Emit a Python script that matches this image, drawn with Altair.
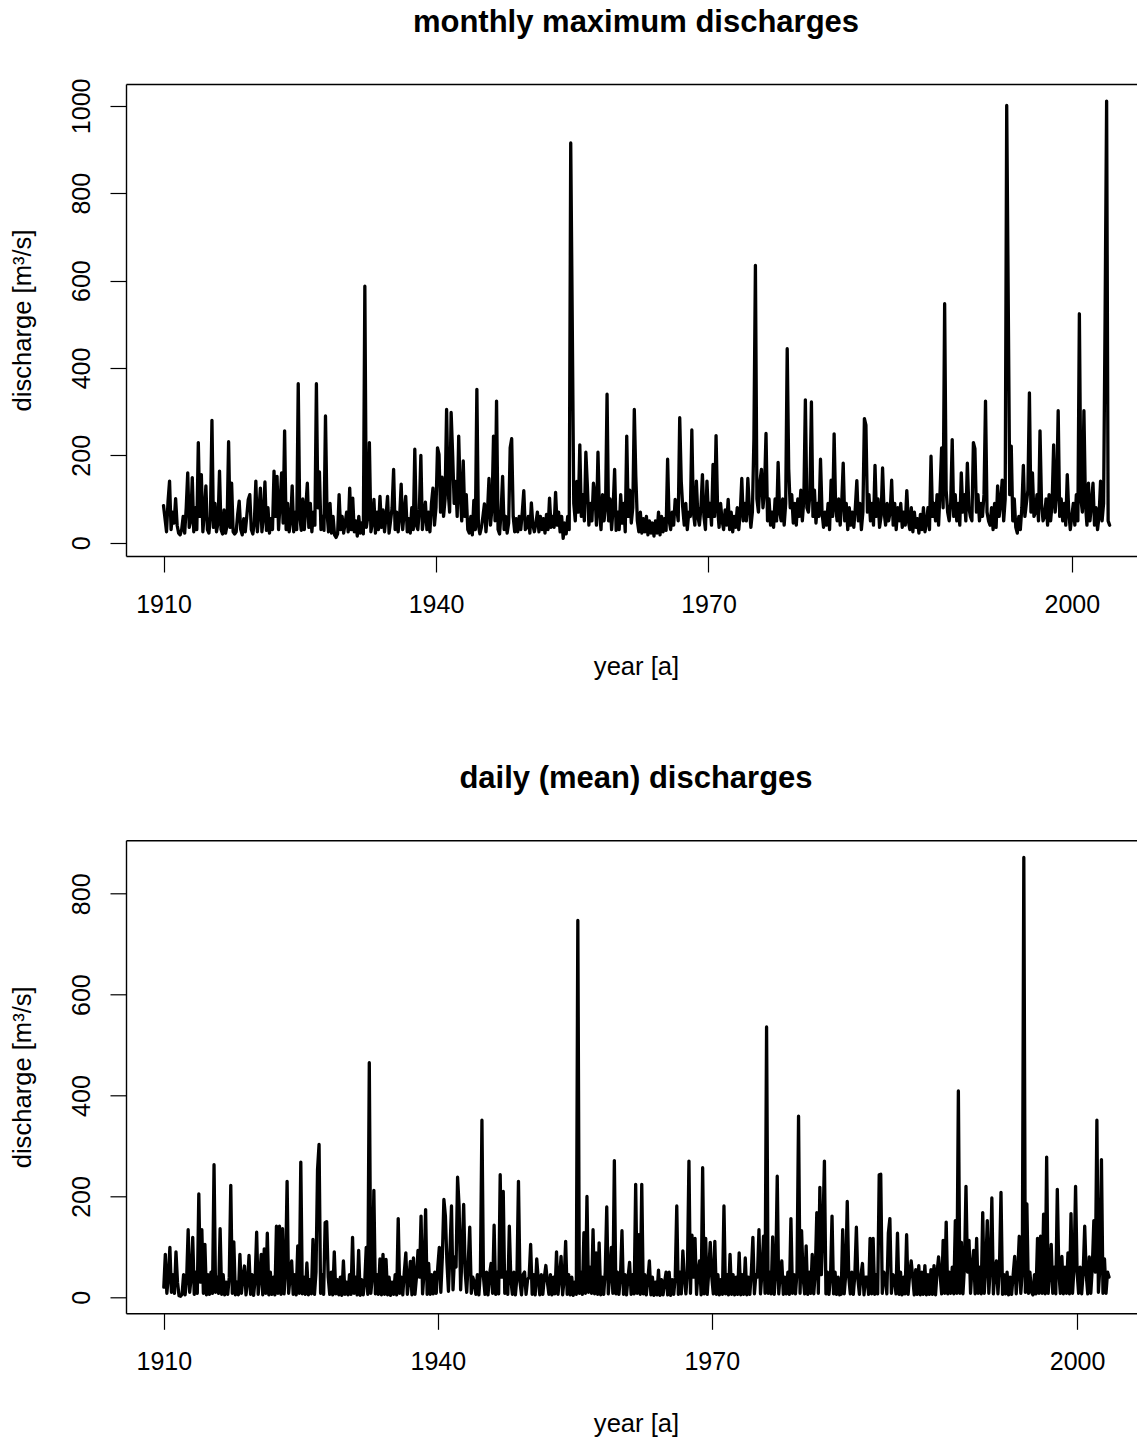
import altair as alt
import pandas as pd

# ---------------- texts ----------------
TITLE_MONTHLY = "monthly maximum discharges"
TITLE_DAILY = "daily (mean) discharges"
X_TITLE = "year [a]"
Y_TITLE = "discharge [m³/s]"

# x tick positions (time axis position) and the labels printed there
TICK_POS = [1910, 1940, 1970, 2010]
TICK_LABELS = ["1910", "1940", "1970", "2000"]
Y_TICKS_MONTHLY = [0, 200, 400, 600, 800, 1000]
Y_TICKS_DAILY = [0, 200, 400, 600, 800]

STEPS_PER_YEAR = 6  # values below are read every 2 months

# ---------------- monthly maximum discharges (m³/s) ----------------
M_1910 = [
    85, 55, 25, 95, 141, 30,     # 1910
    70, 45, 101, 40, 22, 18,     # 1911
    30, 60, 22, 80, 160, 35,     # 1912
    50, 149, 25, 80, 30, 229,    # 1913
    60, 156, 25, 70, 130, 30,    # 1914
    22, 60, 280, 35, 90, 25,     # 1915
    45, 164, 30, 20, 75, 22,     # 1916
    40, 231, 35, 136, 25, 20,    # 1917
    25, 65, 95, 30, 18, 55,      # 1918
    25, 60, 99, 110, 30, 20,     # 1919
]
M_1920 = [
    45, 141, 25, 70, 125, 25,    # 1920
    60, 139, 28, 80, 22, 55,     # 1921
    30, 164, 60, 152, 30, 90,    # 1922
    160, 45, 256, 30, 90, 25,    # 1923
    50, 130, 25, 70, 30, 364,    # 1924
    60, 28, 100, 30, 80, 136,    # 1925
    35, 90, 25, 70, 40, 364,     # 1926
    80, 162, 30, 60, 28, 290,    # 1927
    70, 25, 90, 22, 60, 18,      # 1928
    12, 20, 110, 30, 60, 22,     # 1929
]
M_1930 = [
    45, 70, 25, 125, 30, 102,    # 1930
    25, 50, 15, 60, 22, 45,      # 1931
    20, 587, 35, 60, 229, 25,    # 1932
    45, 99, 22, 70, 30, 106,     # 1933
    35, 75, 25, 60, 106, 22,     # 1934
    50, 80, 168, 30, 70, 25,     # 1935
    60, 134, 30, 70, 106, 25,    # 1936
    55, 22, 80, 30, 214, 40,     # 1937
    30, 75, 200, 30, 60, 93,     # 1938
    30, 70, 25, 90, 125, 40,     # 1939
]
M_1940 = [
    80, 217, 202, 70, 150, 60,   # 1940
    100, 305, 120, 70, 298, 202, # 1941
    90, 140, 60, 244, 110, 50,   # 1942
    187, 60, 110, 30, 22, 60,    # 1943
    18, 97, 30, 351, 40, 20,     # 1944
    35, 60, 89, 25, 70, 147,     # 1945
    40, 80, 244, 50, 324, 30,    # 1946
    20, 70, 152, 30, 60, 22,     # 1947
    45, 217, 238, 60, 25, 55,    # 1948
    25, 60, 30, 70, 119, 30,     # 1949
]
M_1950 = [
    35, 60, 22, 91, 40, 25,      # 1950
    45, 70, 25, 60, 30, 55,      # 1951
    22, 65, 30, 102, 35, 60,     # 1952
    35, 115, 40, 70, 25, 60,     # 1953
    10, 45, 20, 60, 30, 915,     # 1954
    511, 90, 50, 140, 70, 224,   # 1955
    60, 110, 50, 207, 130, 40,   # 1956
    90, 50, 136, 110, 40, 207,   # 1957
    70, 30, 110, 50, 80, 340,    # 1958
    50, 100, 30, 80, 168, 28,    # 1959
]
M_1960 = [
    70, 30, 110, 45, 90, 25,     # 1960
    244, 60, 120, 45, 80, 305,   # 1961
    152, 50, 25, 70, 22, 55,     # 1962
    25, 60, 18, 50, 22, 45,      # 1963
    15, 50, 22, 70, 18, 60,      # 1964
    25, 55, 28, 191, 50, 30,     # 1965
    70, 40, 99, 80, 50, 286,     # 1966
    141, 80, 40, 90, 30, 70,     # 1967
    60, 258, 70, 40, 141, 60,    # 1968
    40, 80, 156, 60, 30, 141,    # 1969
]
M_1970 = [
    60, 90, 40, 179, 60, 245,    # 1970
    80, 35, 90, 50, 30, 75,      # 1971
    40, 99, 30, 70, 25, 60,      # 1972
    35, 80, 30, 70, 147, 50,     # 1973
    90, 50, 147, 80, 35, 70,     # 1974
    236, 635, 100, 70, 140, 168, # 1975
    80, 120, 250, 50, 100, 40,   # 1976
    70, 35, 100, 50, 184, 70,    # 1977
    50, 100, 40, 90, 444, 168,   # 1978
    80, 110, 45, 90, 40, 100,    # 1979
]
M_1980 = [
    60, 120, 50, 100, 327, 80,   # 1980
    70, 110, 322, 60, 120, 45,   # 1981
    90, 60, 191, 70, 35, 70,     # 1982
    40, 90, 30, 143, 60, 249,    # 1983
    80, 50, 100, 40, 90, 182,    # 1984
    50, 90, 30, 80, 40, 70,      # 1985
    35, 80, 142, 50, 90, 30,     # 1986
    70, 284, 269, 70, 110, 50,   # 1987
    90, 40, 177, 60, 100, 35,    # 1988
    60, 171, 70, 40, 90, 50,     # 1989
]
M_1990 = [
    70, 143, 40, 90, 30, 80,     # 1990
    50, 90, 35, 70, 40, 119,     # 1991
    50, 30, 80, 25, 70, 35,      # 1992
    55, 22, 65, 30, 80, 25,      # 1993
    45, 80, 30, 198, 60, 90,     # 1994
    50, 110, 40, 120, 217, 80,   # 1995
    547, 120, 70, 50, 90, 236,   # 1996
    60, 110, 50, 90, 40, 160,    # 1997
    70, 110, 50, 182, 80, 60,    # 1998
    50, 229, 215, 70, 110, 50,   # 1999
]
M_2000 = [
    90, 60, 110, 324, 70, 50,    # 2000
    40, 80, 30, 90, 35, 130,     # 2001
    60, 90, 143, 50, 100, 1001,  # 2002
    558, 110, 221, 50, 100, 35,  # 2003
    22, 60, 30, 80, 177, 60,     # 2004
    90, 120, 343, 70, 160, 60,   # 2005
    70, 110, 50, 256, 90, 50,    # 2006
    60, 100, 40, 110, 50, 90,    # 2007
    224, 70, 110, 302, 60, 100,  # 2008
    50, 90, 40, 156, 70, 30,     # 2009
]
M_2010 = [
    60, 90, 40, 110, 50, 524,    # 2010
    100, 70, 302, 90, 40, 136,   # 2011
    50, 90, 136, 40, 80, 30,     # 2012
    60, 141, 50, 90, 521, 1011,  # 2013
    50, 40,                      # 2014
]

# ---------------- daily (mean) discharges (m³/s) ----------------
D_1910 = [
    20, 85, 8, 40, 99, 10,       # 1910
    45, 8, 90, 30, 3, 2,         # 1911
    6, 45, 5, 35, 134, 10,       # 1912
    40, 119, 6, 50, 8, 205,      # 1913
    30, 134, 8, 105, 5, 45,      # 1914
    6, 50, 8, 263, 10, 40,       # 1915
    8, 136, 6, 45, 5, 30,        # 1916
    6, 40, 222, 8, 110, 5,       # 1917
    30, 5, 85, 8, 40, 62,        # 1918
    5, 30, 83, 6, 45, 4,         # 1919
]
D_1920 = [
    35, 129, 6, 40, 85, 5,       # 1920
    96, 8, 127, 5, 50, 6,        # 1921
    40, 5, 141, 8, 141, 6,       # 1922
    136, 7, 50, 230, 8, 40,      # 1923
    72, 6, 45, 5, 102, 8,        # 1924
    268, 7, 40, 6, 68, 5,        # 1925
    35, 7, 115, 6, 50, 253,      # 1926
    303, 8, 45, 6, 148, 150,     # 1927
    40, 6, 50, 5, 90, 7,         # 1928
    35, 5, 40, 4, 72, 6,         # 1929
]
D_1930 = [
    30, 5, 45, 6, 119, 8,        # 1930
    40, 5, 93, 4, 35, 5,         # 1931
    30, 99, 6, 465, 8, 40,       # 1932
    212, 7, 45, 6, 76, 5,        # 1933
    85, 6, 75, 5, 40, 4,         # 1934
    30, 6, 45, 5, 156, 8,        # 1935
    40, 5, 50, 88, 6, 35,        # 1936
    71, 5, 78, 6, 40, 93,        # 1937
    40, 161, 7, 50, 174, 6,      # 1938
    67, 6, 45, 7, 50, 8,         # 1939
]
D_1940 = [
    60, 99, 10, 80, 194, 161,    # 1940
    70, 12, 90, 181, 15, 80,     # 1941
    60, 238, 181, 15, 90, 184,   # 1942
    50, 10, 70, 139, 8, 40,      # 1943
    30, 6, 45, 5, 50, 351,       # 1944
    40, 6, 50, 5, 45, 67,        # 1945
    8, 143, 6, 50, 7, 243,       # 1946
    40, 210, 8, 50, 6, 141,      # 1947
    35, 6, 50, 5, 40, 230,       # 1948
    30, 5, 45, 50, 6, 35,        # 1949
]
D_1950 = [
    40, 105, 6, 45, 5, 76,       # 1950
    35, 5, 45, 6, 40, 63,        # 1951
    30, 6, 45, 5, 40, 7,         # 1952
    90, 6, 40, 81, 5, 35,        # 1953
    111, 6, 45, 5, 40, 4,        # 1954
    30, 6, 747, 8, 50, 6,        # 1955
    128, 8, 200, 10, 60, 8,      # 1956
    134, 7, 88, 6, 108, 5,       # 1957
    40, 6, 50, 179, 7, 45,       # 1958
    99, 8, 271, 7, 50, 6,        # 1959
]
D_1960 = [
    40, 132, 6, 45, 5, 40,       # 1960
    69, 6, 45, 7, 224, 8,        # 1961
    124, 6, 224, 7, 45, 5,       # 1962
    35, 72, 5, 40, 4, 30,        # 1963
    5, 54, 4, 35, 5, 30,         # 1964
    50, 5, 50, 4, 35, 6,         # 1965
    40, 181, 6, 50, 7, 92,       # 1966
    40, 7, 50, 270, 8, 123,      # 1967
    40, 117, 6, 50, 72, 5,       # 1968
    257, 7, 117, 6, 50, 109,     # 1969
]
D_1970 = [
    40, 7, 111, 6, 45, 5,        # 1970
    35, 6, 181, 7, 45, 5,        # 1971
    85, 6, 45, 5, 40, 6,         # 1972
    88, 5, 45, 6, 78, 5,         # 1973
    40, 6, 50, 119, 7, 45,       # 1974
    40, 134, 7, 50, 121, 8,      # 1975
    536, 8, 50, 7, 120, 6,       # 1976
    45, 240, 7, 50, 72, 6,       # 1977
    40, 7, 50, 6, 156, 8,        # 1978
    45, 7, 50, 359, 8, 132,      # 1979
]
D_1980 = [
    40, 7, 102, 6, 50, 8,        # 1980
    85, 7, 50, 168, 8, 218,      # 1981
    45, 132, 270, 7, 50, 6,      # 1982
    40, 161, 7, 50, 6, 40,       # 1983
    5, 6, 134, 7, 45, 190,       # 1984
    40, 7, 50, 6, 45, 139,       # 1985
    35, 6, 45, 67, 5, 40,        # 1986
    40, 6, 117, 7, 117, 6,       # 1987
    45, 7, 243, 244, 8, 50,      # 1988
    40, 7, 127, 156, 8, 45,      # 1989
]
D_1990 = [
    40, 7, 127, 6, 50, 5,        # 1990
    40, 7, 124, 6, 45, 72,       # 1991
    40, 5, 55, 6, 63, 5,         # 1992
    50, 6, 63, 5, 45, 6,         # 1993
    55, 6, 63, 5, 50, 80,        # 1994
    45, 7, 113, 8, 149, 7,       # 1995
    50, 8, 60, 7, 152, 8,        # 1996
    409, 8, 109, 7, 60, 220,     # 1997
    50, 113, 8, 60, 93, 7,       # 1998
    117, 8, 60, 7, 168, 8,       # 1999
]
D_2000 = [
    60, 152, 8, 60, 197, 7,      # 2000
    50, 72, 7, 60, 208, 6,       # 2001
    45, 7, 50, 5, 40, 6,         # 2002
    45, 81, 7, 50, 121, 8,       # 2003
    50, 872, 10, 185, 8, 50,     # 2004
    10, 5, 45, 7, 117, 8,        # 2005
    121, 8, 165, 7, 278, 8,      # 2006
    50, 105, 8, 60, 7, 214,      # 2007
    50, 8, 81, 7, 60, 8,         # 2008
    88, 7, 166, 8, 60, 220,      # 2009
]
D_2010 = [
    50, 8, 60, 7, 50, 141,       # 2010
    45, 7, 80, 8, 60, 152,       # 2011
    50, 351, 10, 60, 273, 8,     # 2012
    76, 8, 50, 40,               # 2013
]

MONTHLY = [(1910, M_1910), (1920, M_1920), (1930, M_1930), (1940, M_1940),
           (1950, M_1950), (1960, M_1960), (1970, M_1970), (1980, M_1980),
           (1990, M_1990), (2000, M_2000), (2010, M_2010)]
DAILY = [(1910, D_1910), (1920, D_1920), (1930, D_1930), (1940, D_1940),
         (1950, D_1950), (1960, D_1960), (1970, D_1970), (1980, D_1980),
         (1990, D_1990), (2000, D_2000), (2010, D_2010)]


def to_frame(decades):
    rows = []
    for start, vals in decades:
        for i, v in enumerate(vals):
            rows.append({"t": start + i / STEPS_PER_YEAR, "q": v})
    return pd.DataFrame(rows)


label_expr = ""
for p, lab in zip(TICK_POS, TICK_LABELS):
    label_expr += f"datum.value == {p} ? '{lab}' : "
label_expr += "datum.label"

FONT = "Liberation Sans"
PLOT_W = 1011


def panel(decades, title, xdom, ydom, yticks, height, title_offset):
    df = to_frame(decades)
    xs = alt.Scale(domain=xdom, nice=False, zero=False)
    ys = alt.Scale(domain=ydom, nice=False, zero=False)
    x_axis = alt.Axis(values=TICK_POS, labelExpr=label_expr, title=X_TITLE,
                      orient="bottom", labelPadding=20.5, labelBaseline="top",
                      labelFlush=False, labelOverlap=False,
                      titleX=510, titleY=110.5, titleBaseline="middle",
                      titleAlign="center")
    y_axis = alt.Axis(values=yticks, format="d", title=Y_TITLE, labelAngle=270,
                      labelAlign="center", labelBaseline="alphabetic",
                      labelPadding=20.5, labelFlush=False, labelOverlap=False,
                      titleAngle=270, titleX=-104, titleY=height / 2,
                      titleAlign="center", titleBaseline="middle")
    top_axis = alt.Axis(orient="top", labels=False, ticks=False, title=None,
                        domain=True)
    line = alt.Chart(df).mark_line(
        color="black", strokeWidth=3.3, strokeJoin="round", strokeCap="round"
    ).encode(
        x=alt.X("t:Q", scale=xs, axis=x_axis),
        y=alt.Y("q:Q", scale=ys, axis=y_axis),
    )
    frame_top = alt.Chart(df).mark_line(opacity=0).encode(
        x=alt.X("t:Q", scale=xs, axis=top_axis),
        y=alt.Y("q:Q", scale=ys, axis=y_axis),
    )
    return alt.layer(line, frame_top).resolve_axis(x="independent").properties(
        width=PLOT_W, height=height,
        title=alt.TitleParams(text=title, baseline="alphabetic",
                              offset=title_offset, dx=4.5, anchor="middle"),
    )


top = panel(MONTHLY, TITLE_MONTHLY, [1905.871, 2017.178], [-30.5, 1050],
            Y_TICKS_MONTHLY, 472, 15)
bottom = panel(DAILY, TITLE_DAILY, [1905.861, 2016.559], [-31.7, 906],
               Y_TICKS_DAILY, 473, 21)

chart = alt.vconcat(top, bottom, spacing=284.3, bounds="flush").properties(
    padding={"left": 10, "top": 7, "right": 0, "bottom": 0},
    background="white",
).configure_view(
    strokeWidth=0
).configure_axis(
    labelFont=FONT, titleFont=FONT, labelFontSize=25, titleFontSize=25.6,
    titleFontWeight="normal", labelColor="black", titleColor="black",
    tickColor="black", domainColor="black", tickSize=16, tickWidth=1.2,
    domainWidth=1.4, grid=False,
).configure_title(
    font=FONT, fontSize=31, fontWeight="bold", color="black"
)

chart.save("out.html", embed_options={"renderer": "svg", "actions": False})
